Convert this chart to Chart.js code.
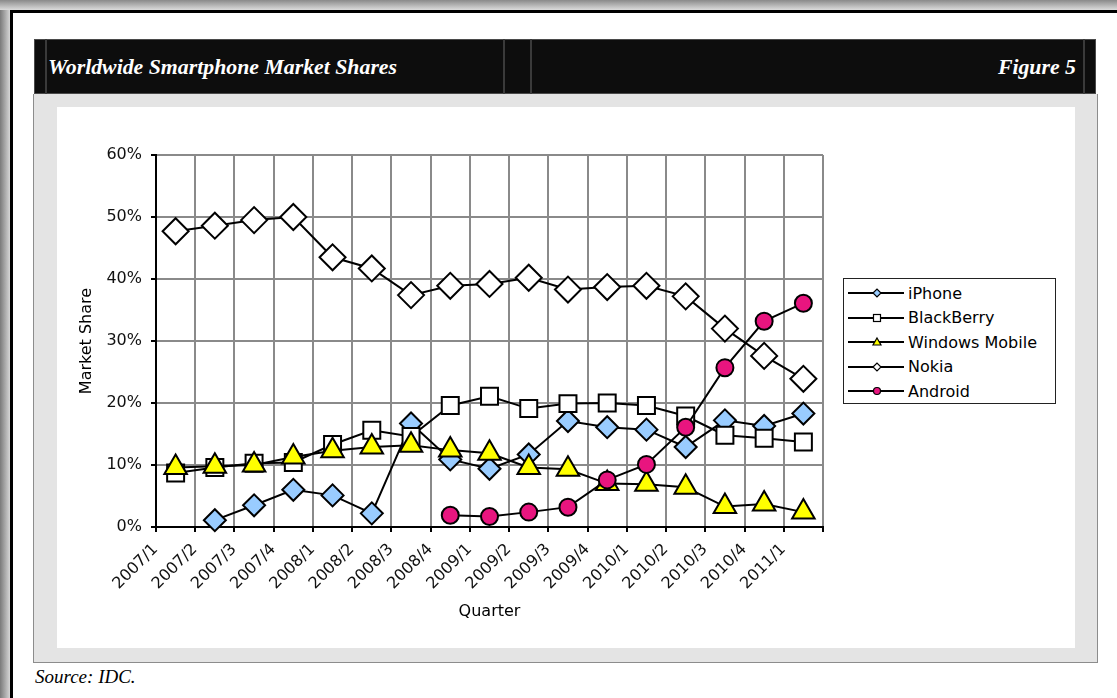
<!DOCTYPE html>
<html>
<head>
<meta charset="utf-8">
<script src="https://cdn.jsdelivr.net/npm/chart.js@4.4.1/dist/chart.umd.min.js"></script>
<style>
  html, body { margin: 0; padding: 0; background: #fff; }
  body { width: 1117px; height: 698px; position: relative; overflow: hidden; }
  .shadow-left { position: absolute; left: 0; top: 0; width: 10px; height: 698px;
    background: linear-gradient(to right, #7a7a7a, #d6d6d6); }
  .shadow-top { position: absolute; left: 0; top: 0; width: 1117px; height: 10px;
    background: linear-gradient(to bottom, #8a8a8a, #dcdcdc); }
  .page { position: absolute; left: 10px; top: 10px; width: 1120px; height: 700px;
    border-left: 3px solid #000; border-top: 3px solid #000; background: #fff; }
  .header { position: absolute; left: 34px; top: 39px; width: 1062px; height: 55px;
    background: #0d0d0d; border: 1px solid #4a4a4a; box-sizing: border-box; }
  .divider { position: absolute; top: 39px; width: 2px; height: 55px; background: #3a3a3a; }
  .title { position: absolute; left: 48px; top: 55px; color: #fff;
    font: italic bold 21.8px "Liberation Serif", "DejaVu Serif", serif; }
  .figure { position: absolute; right: calc(1117px - 1076px); top: 55px; color: #fff;
    font: italic bold 21.8px "Liberation Serif", "DejaVu Serif", serif; }
  .panel { position: absolute; left: 33px; top: 94px; width: 1065px; height: 569px;
    background: #e4e4e4; border: 1px solid #8c8c8c; border-top: none; box-sizing: border-box; }
  .inner { position: absolute; left: 57px; top: 107px; width: 1018px; height: 541px; background: #fff; }
  .source { position: absolute; left: 35px; top: 666px;
    font: italic 19px "Liberation Serif", "DejaVu Serif", serif; color: #000; }
  #chart { position: absolute; left: 0; top: 0; }
  .legend { position: absolute; left: 843px; top: 278px; width: 213px; height: 126px;
    border: 1px solid #222; box-sizing: border-box; background: #fff; padding-top: 2px;
    font: 16px "DejaVu Sans", sans-serif; color: #000; }
  .legend .row { height: 24.5px; display: flex; align-items: center; }
  .legend svg { margin-left: 4px; margin-right: 4px; }
</style>
</head>
<body>
<div class="shadow-left"></div>
<div class="shadow-top"></div>
<div class="page"></div>
<div class="panel"></div>
<div class="inner"></div>
<div class="header"></div>
<div class="divider" style="left:45px"></div>
<div class="divider" style="left:503px"></div>
<div class="divider" style="left:530px"></div>
<div class="divider" style="left:1083px"></div>
<div class="title">Worldwide Smartphone Market Shares</div>
<div class="figure">Figure 5</div>
<div class="source">Source: IDC.</div>
<canvas id="chart" width="1117" height="698"></canvas>
<div class="legend" id="legend"></div>

<script>
// quarters on the x axis
const quarters = [
  "2007/1", "2007/2", "2007/3", "2007/4",
  "2008/1", "2008/2", "2008/3", "2008/4",
  "2009/1", "2009/2", "2009/3", "2009/4",
  "2010/1", "2010/2", "2010/3", "2010/4",
  "2011/1",
];

// market share, percent
const iphone = [null, 1.1, 3.5, 6.0, 5.1, 2.2, 16.7, 10.9, 9.4, 11.7, 17.1, 16.1, 15.7, 12.9, 17.2, 16.3, 18.3];
const blackberry = [8.7, 9.6, 10.3, 10.4, 13.3, 15.6, 14.6, 19.6, 21.1, 19.1, 19.9, 20.0, 19.6, 17.9, 14.8, 14.3, 13.7];
const windowsMobile = [9.6, 9.8, 10.0, 11.3, 12.3, 12.9, 13.2, 12.4, 11.9, 9.6, 9.3, 7.0, 6.9, 6.4, 3.3, 3.7, 2.4];
const nokia = [47.7, 48.6, 49.5, 50.0, 43.5, 41.7, 37.4, 38.9, 39.2, 40.2, 38.3, 38.7, 38.9, 37.2, 32.0, 27.6, 23.9];
const android = [null, null, null, null, null, null, null, 1.9, 1.7, 2.4, 3.2, 7.6, 10.1, 16.1, 25.7, 33.2, 36.1];

const yTicks = [0, 10, 20, 30, 40, 50, 60];

const seriesNames = ["iPhone", "BlackBerry", "Windows Mobile", "Nokia", "Android"];
const seriesData = [iphone, blackberry, windowsMobile, nokia, android];
const fills = ["#99ccff", "#ffffff", "#ffff00", "#ffffff", "#e8157f"];
const shapes = ["rectRot", "rect", "triangle", "rectRot", "circle"];
const sizes = [11, 12, 13, 13, 8.5];

Chart.defaults.font.family = "'DejaVu Sans', sans-serif";
Chart.defaults.font.size = 16;
Chart.defaults.color = "#000";

const datasets = seriesNames.map((name, i) => ({
  label: name,
  data: seriesData[i],
  borderColor: "#000",
  borderWidth: 2,
  backgroundColor: fills[i],
  pointStyle: shapes[i],
  pointRadius: sizes[i],
  pointBorderColor: "#000",
  pointBorderWidth: 2,
  pointBackgroundColor: fills[i],
  tension: 0,
  spanGaps: false,
  clip: false,
  order: seriesNames.length - i, // later series sit on top, like Excel
}));

new Chart(document.getElementById("chart"), {
  type: "line",
  data: { labels: quarters, datasets: datasets },
  options: {
    responsive: false,
    animation: false,
    devicePixelRatio: 1,
    layout: { padding: { left: 70, top: 155, right: 294, bottom: 71 } },
    plugins: {
      legend: { display: false },
      tooltip: { enabled: false },
    },
    scales: {
      x: {
        offset: true,
        grid: {
          offset: true,
          color: "#8a8a8a",
          lineWidth: 2,
          tickColor: "#000",
          tickLength: 5,
        },
        border: { color: "#000", width: 2 },
        ticks: {
          autoSkip: false,
          minRotation: 45,
          maxRotation: 45,
          labelOffset: -20,
          padding: 8,
          color: "#111",
        },
        title: {
          display: true,
          text: "Quarter",
          padding: { top: 0, bottom: 6 },
        },
        afterFit: (scale) => { scale.height = 100; },
      },
      y: {
        min: 0,
        max: 60,
        afterBuildTicks: (scale) => {
          scale.ticks = yTicks.map((v) => ({ value: v }));
        },
        grid: {
          color: "#8a8a8a",
          lineWidth: 2,
          tickColor: "#000",
          tickLength: 5,
        },
        border: { color: "#000", width: 2 },
        ticks: {
          padding: 9,
          color: "#111",
          callback: (v) => v + "%",
        },
        title: {
          display: true,
          text: "Market Share",
          padding: { top: 7, bottom: 0 },
        },
        afterFit: (scale) => { scale.width = 86; },
      },
    },
  },
});

// legend: line with a small marker, like the Excel key
function markerSvg(shape, fill) {
  const cx = 29, cy = 8;
  let m = "";
  if (shape === "rectRot") {
    m = `<polygon points="${cx - 4},${cy} ${cx},${cy - 4} ${cx + 4},${cy} ${cx},${cy + 4}" fill="${fill}" stroke="#000" stroke-width="1.2"/>`;
  } else if (shape === "rect") {
    m = `<rect x="${cx - 3.5}" y="${cy - 3.5}" width="7" height="7" fill="${fill}" stroke="#000" stroke-width="1.2"/>`;
  } else if (shape === "triangle") {
    m = `<polygon points="${cx},${cy - 4} ${cx + 4},${cy + 3} ${cx - 4},${cy + 3}" fill="${fill}" stroke="#000" stroke-width="1.2"/>`;
  } else {
    m = `<circle cx="${cx}" cy="${cy}" r="3.5" fill="${fill}" stroke="#000" stroke-width="1.2"/>`;
  }
  return `<svg width="56" height="16"><line x1="0" y1="${cy}" x2="56" y2="${cy}" stroke="#000" stroke-width="2"/>${m}</svg>`;
}

const legendEl = document.getElementById("legend");
legendEl.innerHTML = seriesNames
  .map((name, i) => `<div class="row">${markerSvg(shapes[i], fills[i])}<span>${name}</span></div>`)
  .join("");
</script>
</body>
</html>
